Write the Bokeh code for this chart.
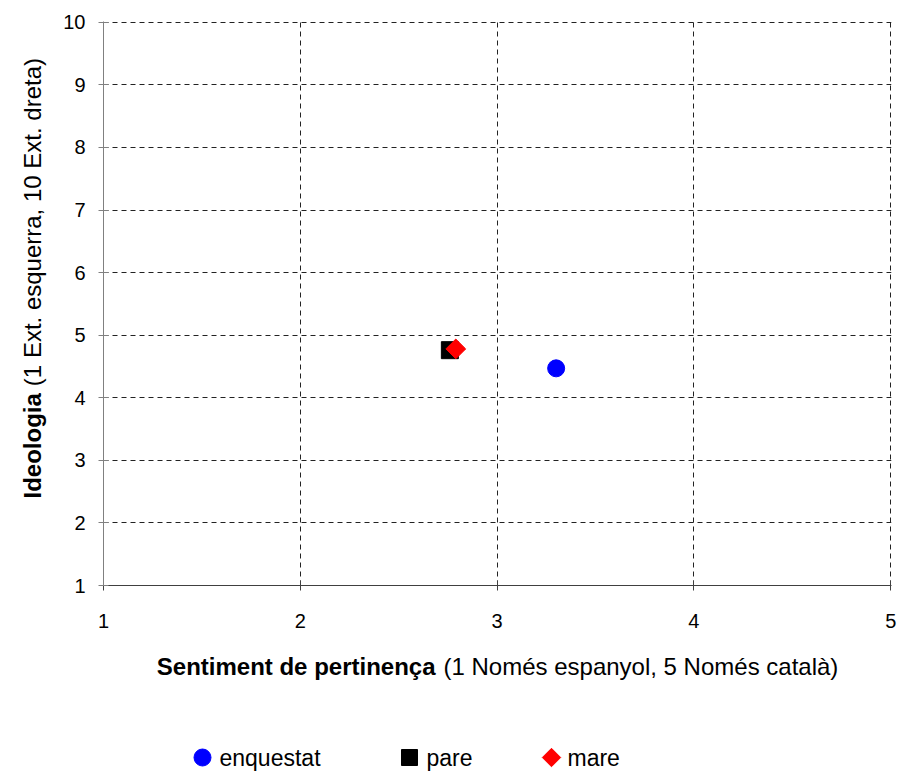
import math
from bokeh.plotting import figure
from bokeh.models import Range1d, FixedTicker
from bokeh.layouts import column, row
from bokeh.core.properties import value
from bokeh.embed import file_html
from bokeh.resources import INLINE

# ---- data ----
series_names = ["enquestat", "pare", "mare"]
sentiment = [3.30, 2.76, 2.79]
ideologia = [4.47, 4.76, 4.78]
x_ticks = [1, 2, 3, 4, 5]
y_ticks = [1, 2, 3, 4, 5, 6, 7, 8, 9, 10]
x_title_bold = "Sentiment de pertinença"
x_title_rest = "(1 Només espanyol, 5 Només català)"
y_title_bold = "Ideologia"
y_title_rest = "(1 Ext. esquerra, 10 Ext. dreta)"

# ---- styles ----
FONT = "Liberation Sans"
colors = ["#0000FF", "#000000", "#FF0000"]
markers = ["circle", "square", "square"]
marker_sizes = [17, 17, 14]
marker_angles = [0, 0, math.pi / 4]

TOP_H = 645
BOT_H = 128
LEFT_W = 60
MAIN_W = 838
TITLE_SIZE = "24px"


def blank(width, height, xr, yr):
    f = figure(width=width, height=height, output_backend="svg",
               toolbar_location=None, x_range=xr, y_range=yr,
               x_axis_location=None, y_axis_location=None,
               min_border=0, min_border_left=0, min_border_right=0,
               min_border_top=0, min_border_bottom=0)
    f.outline_line_color = None
    f.xgrid.visible = False
    f.ygrid.visible = False
    return f


# ---- main plot ----
p = figure(width=MAIN_W, height=TOP_H, output_backend="svg", toolbar_location=None,
           x_range=Range1d(1, 5.004), y_range=Range1d(1, 10.012),
           min_border_left=41, min_border_right=7, min_border_top=21,
           min_border_bottom=TOP_H - 585)
p.outline_line_color = None

for ax, col in ((p.xaxis[0], "#404040"), (p.yaxis[0], "#808080")):
    ax.major_label_text_font = FONT
    ax.major_label_text_font_size = "20px"
    ax.major_label_text_color = "black"
    ax.axis_line_color = col
    ax.major_tick_line_color = col
    ax.minor_tick_line_color = None
    ax.major_tick_in = 5
    ax.major_tick_out = 5

p.xaxis[0].ticker = FixedTicker(ticks=x_ticks)
p.yaxis[0].ticker = FixedTicker(ticks=y_ticks)
p.xaxis[0].major_label_standoff = 23
p.yaxis[0].major_label_standoff = 13

for g in (p.xgrid[0], p.ygrid[0]):
    g.grid_line_color = "#222222"
    g.grid_line_dash = "5 4"
    g.grid_line_width = 1

draw_order = [1, 2, 0]
for i in draw_order:
    p.scatter([sentiment[i]], [ideologia[i]], marker=markers[i],
              size=marker_sizes[i], angle=marker_angles[i],
              fill_color=colors[i], line_color=colors[i])

# ---- y-axis title (left strip, page pixel coordinates) ----
py = blank(LEFT_W, TOP_H, Range1d(0, LEFT_W), Range1d(TOP_H, 0))
tkw = dict(text_font=value(FONT), text_font_size=TITLE_SIZE, text_color="black",
           text_baseline="middle", angle=math.pi / 2)
py.text(x=[32], y=[425], text=[y_title_bold], text_align="right",
        text_font_style="bold", **tkw)
py.text(x=[32], y=[417], text=[y_title_rest], text_align="left", **tkw)

# ---- x-axis title and legend (bottom strip, page pixel coordinates) ----
pb = blank(LEFT_W + MAIN_W, BOT_H, Range1d(0, LEFT_W + MAIN_W),
           Range1d(TOP_H + BOT_H, TOP_H))
bkw = dict(text_font=value(FONT), text_font_size=TITLE_SIZE, text_color="black",
           text_baseline="middle")
pb.text(x=[435], y=[666], text=[x_title_bold], text_align="right",
        text_font_style="bold", **bkw)
pb.text(x=[443], y=[666], text=[x_title_rest], text_align="left", **bkw)

leg_marker_x = [202, 409, 551]
leg_text_x = [219, 426, 567]
leg_sizes = [17, 16, 13]
for i in range(3):
    pb.scatter([leg_marker_x[i]], [757], marker=markers[i], size=leg_sizes[i],
               angle=marker_angles[i], fill_color=colors[i], line_color=colors[i])
    pb.text(x=[leg_text_x[i]], y=[757], text=[series_names[i]],
            text_font=value(FONT), text_font_size="23px", text_color="black",
            text_baseline="middle", text_align="left")

layout = column(row(py, p), pb)
open("out.html", "w").write(file_html(layout, INLINE))
